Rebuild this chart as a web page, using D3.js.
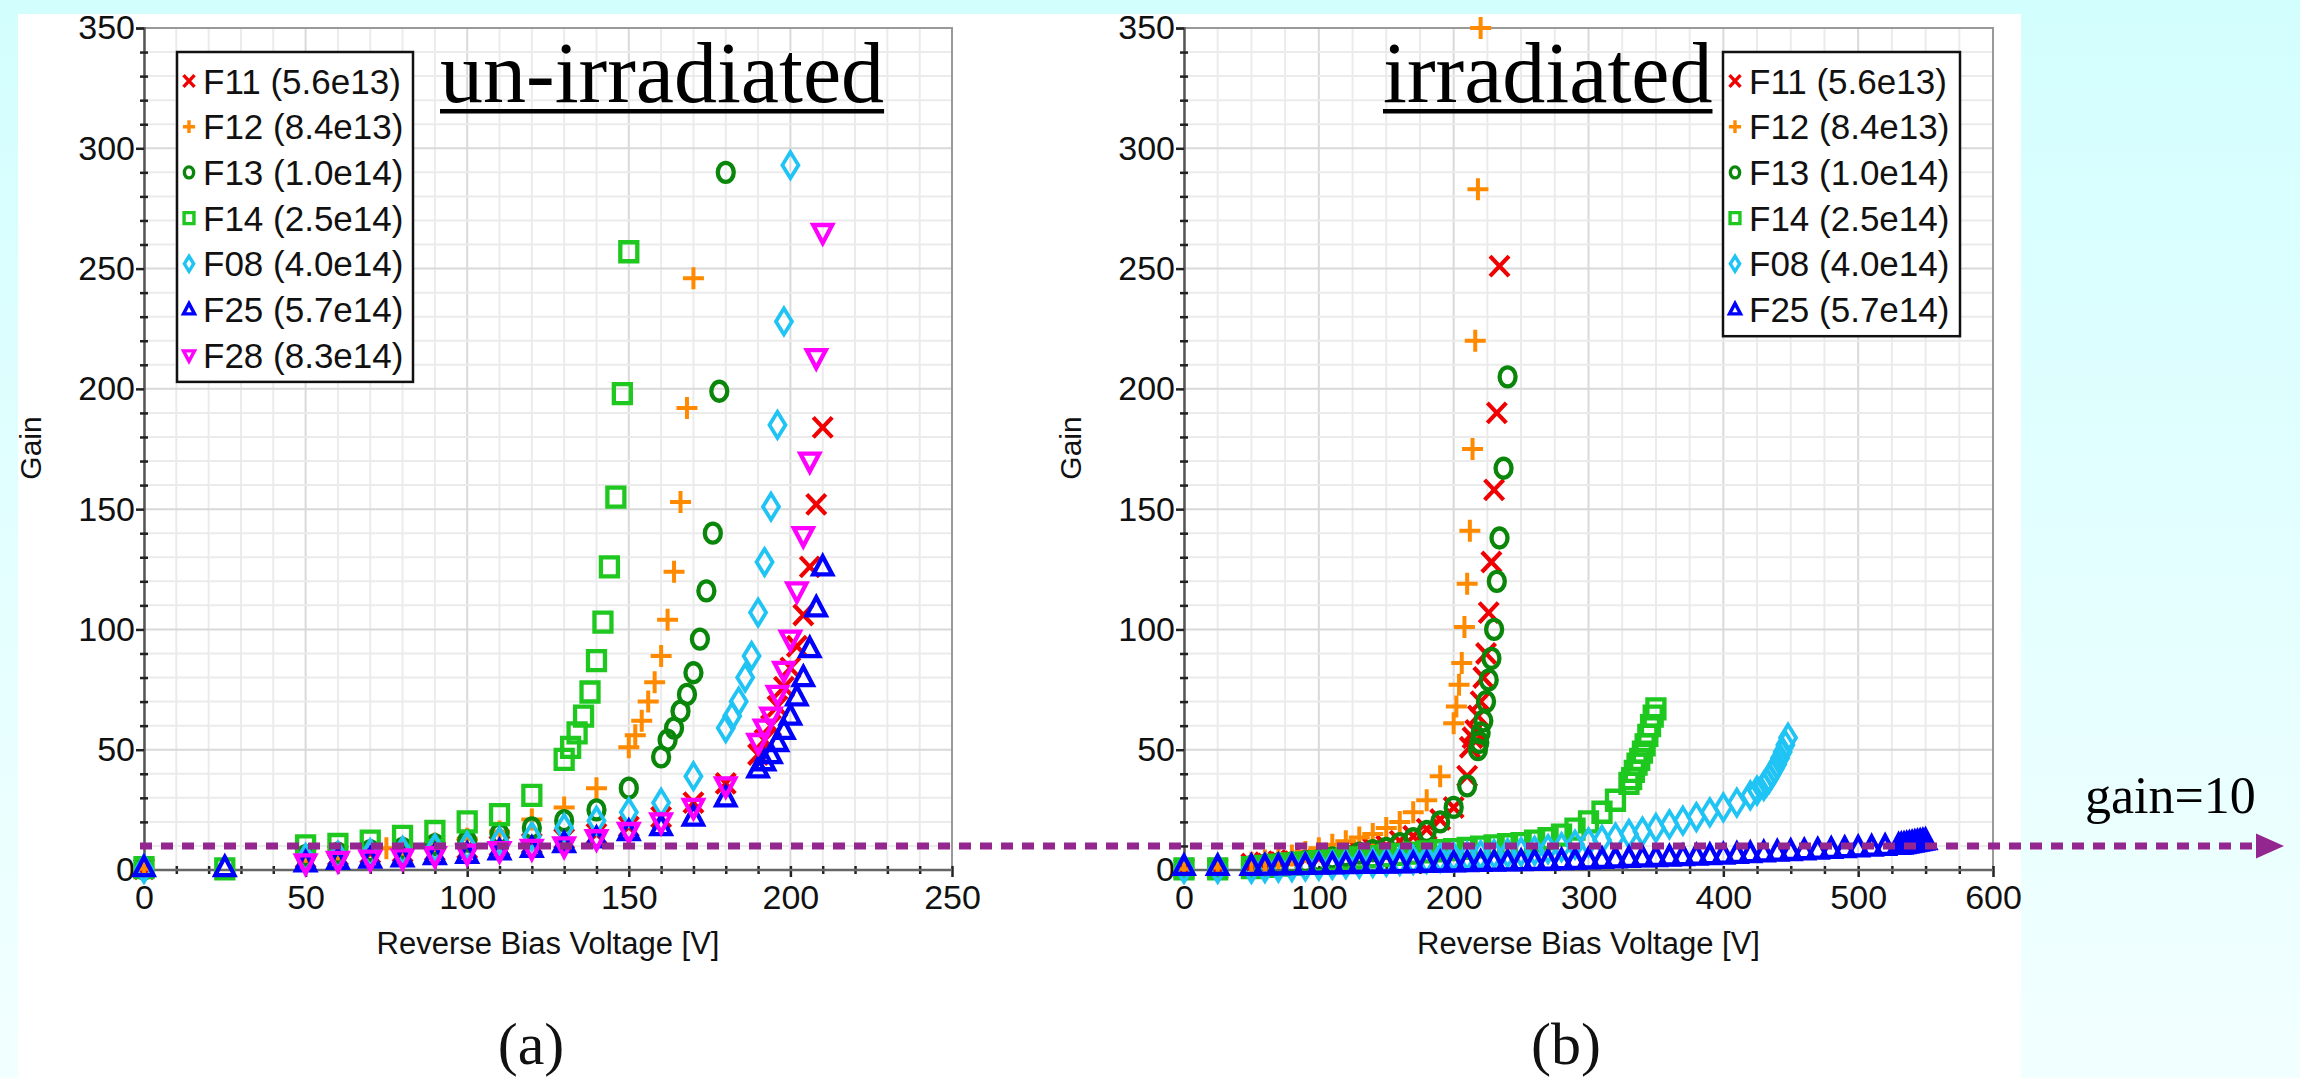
<!DOCTYPE html>
<html>
<head>
<meta charset="utf-8">
<script src="https://cdn.jsdelivr.net/npm/d3@7"></script>
<style>
  html, body { margin: 0; padding: 0; background: #ffffff; }
  svg { display: block; }
  .tick text { font-family: "Liberation Sans", Arial, sans-serif; }
</style>
</head>
<body>
<svg id="chart" width="2300" height="1078"></svg>
<script>
// ---- series labels (fluence) ----
const seriesNames = ["F11 (5.6e13)", "F12 (8.4e13)", "F13 (1.0e14)", "F14 (2.5e14)", "F08 (4.0e14)", "F25 (5.7e14)", "F28 (8.3e14)"];
const seriesColors = ["#f00000", "#ff8a00", "#0a870a", "#1ec81e", "#20c4f4", "#0000ff", "#ff00ff"];
const seriesShapes = ["x", "plus", "circle", "square", "diamond", "triUp", "triDown"];

// ---- un-irradiated: [voltage V, gain] ----
const F11a = [[0,0.5],[50,5],[60,6],[70,7],[80,7.5],[90,8],[100,9],[110,10],[120,11],[130,13],[140,15],[150,18],[160,22],[170,28],[180,36],[190,48],[192,54],[194,60],[196,68],[198,76],[200,84],[202,93],[204,106],[206,126],[208,152],[210,184]];
const F12a = [[0,0.5],[50,6],[60,7],[75,9],[80,9.5],[90,11],[100,13],[110,16],[120,21],[130,26],[140,34],[150,51],[152,56],[154,62],[156,70],[158,78],[160,89],[162,104],[164,124],[166,153],[168,192],[170,246]];
const F13a = [[0,0.5],[50,6],[60,7],[70,8],[80,9],[90,10.5],[100,12],[110,15],[120,17.5],[130,20.5],[140,25],[150,34],[160,47],[162,54],[164,59],[166,66],[168,73],[170,82],[172,96],[174,116],[176,140],[178,199],[180,290]];
const F14a = [[0,1],[25,0.5],[50,10],[60,10.6],[70,12],[80,14],[90,16],[100,20],[110,23],[120,31],[130,46],[132,51],[134,57],[136,64],[138,74],[140,87],[142,103],[144,126],[146,155],[148,198],[150,257]];
const F08a = [[0,0.5],[50,5],[60,6],[70,7],[80,8],[90,9],[100,10],[110,12],[120,14],[130,17.5],[140,20.5],[150,24],[160,28],[170,39],[180,59],[182,64],[184,70],[186,80],[188,89],[190,107],[192,128],[194,151],[196,185],[198,228],[200,293]];
const F25a = [[0,1],[25,1],[50,3],[60,4],[70,4.5],[80,5],[90,6],[100,6.5],[110,8],[120,9],[130,11],[140,13],[150,16],[160,18],[170,22],[180,30],[190,42],[192,45],[194,48],[196,53],[198,58],[200,64],[202,72],[204,80],[206,92],[208,109],[210,126]];
const F28a = [[50,3],[60,4],[70,4.5],[80,5],[90,6],[100,7],[110,8],[120,9],[130,10],[140,13],[150,16],[160,20],[170,26],[180,35],[190,53],[192,59],[194,64],[196,73],[198,83],[200,96],[202,116],[204,139],[206,170],[208,213],[210,265]];

// ---- irradiated: [voltage V, gain] ----
const F11b = [[0,0.5],[25,0.5],[50,2.5],[60,3],[70,3.5],[80,4],[90,4.5],[100,5],[110,6],[120,7],[130,8],[140,9],[150,10],[160,12],[170,14],[180,17],[190,21],[200,26],[210,39],[212,51],[214,55],[216,58],[218,64],[220,70],[222,80],[224,90],[226,107],[228,128],[230,158],[232,190],[234,251]];
const F12b = [[0,0.5],[25,1],[50,3],[60,4],[70,5],[80,6],[90,7.5],[100,9],[110,10.5],[120,12],[130,13.5],[140,15],[150,17.5],[160,20],[170,24],[180,29],[190,39],[200,61],[202,68],[204,77],[206,86],[208,101],[210,119],[212,141],[214,175],[216,220],[218,283],[220,350]];
const F13b = [[0,0.5],[25,0.5],[50,1.5],[60,2],[70,2.5],[80,3],[90,3.5],[100,4],[110,5],[120,6],[130,7],[140,8],[150,9],[160,11],[170,13],[180,16],[190,20],[200,26],[210,35],[218,50],[219,53],[220,57],[222,62],[224,70],[226,79],[228,88],[230,100],[232,120],[234,138],[237,167],[240,205]];
const F14b = [[0,0.5],[25,0.5],[50,1],[60,1.5],[70,2],[80,2.5],[90,3],[100,3.5],[110,4],[120,4.5],[130,5],[140,5.5],[150,6],[160,6.5],[170,7],[180,7.5],[190,8],[200,8.5],[210,9],[220,9.5],[230,10],[240,10.5],[250,11],[260,12],[270,13],[280,14.5],[290,17],[300,20],[310,24],[320,29],[330,36],[332,38],[334,41],[336,44],[338,46],[340,49],[342,52],[344,56],[346,60],[348,64],[350,67]];
const F08b = [[0,0.5],[25,0.5],[50,0.5],[60,0.8],[70,1],[80,1.2],[90,1.5],[100,1.8],[110,2.1],[120,2.4],[130,2.7],[140,3],[150,3.4],[160,3.8],[170,4.2],[180,4.6],[190,5],[200,5.4],[210,5.8],[220,6.2],[230,6.6],[240,7],[250,7.5],[260,8],[270,8.7],[280,9.5],[290,10.5],[300,11.5],[310,12.5],[320,13.5],[330,15],[340,16],[350,17.5],[360,19],[370,20.5],[380,22],[390,24],[400,26],[410,28],[420,31],[425,33],[430,35],[432,36.5],[434,38],[436,40],[438,42],[440,44],[442,46.5],[444,49],[446,52],[448,55]];
const F25b = [[0,1.5],[25,1.5],[50,1.5],[60,1.6],[70,1.7],[80,1.8],[90,1.9],[100,2],[110,2.1],[120,2.2],[130,2.3],[140,2.4],[150,2.5],[160,2.6],[170,2.7],[180,2.8],[190,2.9],[200,3],[210,3.1],[220,3.2],[230,3.3],[240,3.4],[250,3.5],[260,3.6],[270,3.7],[280,3.9],[290,4],[300,4.2],[310,4.4],[320,4.6],[330,4.8],[340,5],[350,5.2],[360,5.4],[370,5.6],[380,5.8],[390,6],[400,6.2],[410,6.5],[420,6.8],[430,7.1],[440,7.4],[450,7.7],[460,8],[470,8.3],[480,8.6],[490,8.9],[500,9.2],[510,9.5],[520,9.8],[530,10.2],[532,10.4],[534,10.6],[536,10.8],[538,11],[540,11.2],[542,11.4],[544,11.6],[546,11.8],[548,12],[550,12.2]];

// ---- axis ticks ----
const gainTicks = [0, 50, 100, 150, 200, 250, 300, 350];
const voltTicksA = [0, 50, 100, 150, 200, 250];
const voltTicksB = [0, 100, 200, 300, 400, 500, 600];
const gainThreshold = 10;

const svg = d3.select("#chart");
const W = 2300, H = 1078;
const sans = "'Liberation Sans', Arial, sans-serif";
const serif = "'Liberation Serif', 'Times New Roman', serif";

// page background
const defs = svg.append("defs");
const bg = defs.append("linearGradient").attr("id", "bgGrad").attr("x1", 0).attr("y1", 0).attr("x2", 0).attr("y2", 1);
bg.append("stop").attr("offset", "0%").attr("stop-color", "#d3fefe");
bg.append("stop").attr("offset", "100%").attr("stop-color", "#f2ffff");
svg.append("rect").attr("width", W).attr("height", H).attr("fill", "url(#bgGrad)");
svg.append("rect").attr("x", 18).attr("y", 14).attr("width", 2003).attr("height", H - 14).attr("fill", "#ffffff");

// marker outlines, centred on the origin
function markerPath(shape, k) {
  const p = d3.path();
  switch (shape) {
    case "x":
      p.moveTo(-9.5*k, -10*k); p.lineTo(9.5*k, 10*k); p.moveTo(-9.5*k, 10*k); p.lineTo(9.5*k, -10*k); break;
    case "plus":
      p.moveTo(-10.5*k, 0); p.lineTo(10.5*k, 0); p.moveTo(0, -11*k); p.lineTo(0, 11*k); break;
    case "circle":
      return `M${-8*k},0a${8*k},${9.5*k} 0 1,0 ${16*k},0a${8*k},${9.5*k} 0 1,0 ${-16*k},0Z`;
    case "square":
      p.rect(-8.5*k, -9.5*k, 17*k, 19*k); break;
    case "diamond":
      p.moveTo(0, -13*k); p.lineTo(8*k, 0); p.lineTo(0, 13*k); p.lineTo(-8*k, 0); p.closePath(); break;
    case "triUp":
      p.moveTo(0, -10.5*k); p.lineTo(9.5*k, 7.5*k); p.lineTo(-9.5*k, 7.5*k); p.closePath(); break;
    case "triDown":
      p.moveTo(0, 10.5*k); p.lineTo(9.5*k, -7.5*k); p.lineTo(-9.5*k, -7.5*k); p.closePath(); break;
  }
  return p.toString();
}
const strokeW = { x: 4.2, plus: 4, circle: 4.3, square: 4.3, diamond: 3.8, triUp: 4.3, triDown: 4.3 };

function drawPanel(cfg) {
  const x = d3.scaleLinear().domain([0, cfg.xMax]).range([cfg.left, cfg.right]);
  const y = d3.scaleLinear().domain([0, 350]).range([870, 28]);
  const g = svg.append("g");

  // grid
  const xGrid = d3.range(0, cfg.xMax + 0.001, cfg.xMinor);
  const yGrid = d3.range(0, 350.001, 10);
  g.selectAll(".vg").data(xGrid).join("line")
    .attr("x1", d => x(d)).attr("x2", d => x(d)).attr("y1", y(0)).attr("y2", y(350))
    .attr("stroke", d => cfg.xTicks.includes(d) ? "#d9d9d9" : "#ebebeb").attr("stroke-width", 2);
  g.selectAll(".hg").data(yGrid).join("line")
    .attr("x1", x(0)).attr("x2", x(cfg.xMax)).attr("y1", d => y(d)).attr("y2", d => y(d))
    .attr("stroke", d => gainTicks.includes(d) ? "#d9d9d9" : "#ebebeb").attr("stroke-width", 2);

  // frame (top and right)
  g.append("path")
    .attr("d", `M${x(0)},${y(350)}H${x(cfg.xMax)}V${y(0)}`)
    .attr("fill", "none").attr("stroke", "#999").attr("stroke-width", 2);

  // y axis: labelled ticks and crossing minor ticks
  const yAxis = g.append("g").attr("transform", `translate(${x(0)},0)`)
    .call(d3.axisLeft(y).tickValues(gainTicks).tickSize(8).tickPadding(1));
  yAxis.select(".domain").attr("stroke", "#555").attr("stroke-width", 2.5);
  yAxis.selectAll(".tick line").attr("stroke", "#222").attr("stroke-width", 2.5);
  yAxis.selectAll(".tick text").attr("font-size", 34).attr("font-family", sans).attr("fill", "#111");
  const yMinor = g.append("g").attr("transform", `translate(${x(0) + 4},0)`)
    .call(d3.axisLeft(y).tickValues(d3.range(10, 350, 10).filter(v => !gainTicks.includes(v))).tickSize(8).tickFormat(""));
  yMinor.select(".domain").remove();
  yMinor.selectAll(".tick line").attr("stroke", "#222").attr("stroke-width", 2.5);

  // x axis
  const xAxis = g.append("g").attr("transform", `translate(0,${y(0) - 4})`)
    .call(d3.axisBottom(x).tickValues(cfg.xTicks).tickSize(11).tickPadding(10).tickFormat(d3.format("d")));
  xAxis.select(".domain").remove();
  xAxis.selectAll(".tick line").attr("stroke", "#222").attr("stroke-width", 2.5);
  xAxis.selectAll(".tick text").attr("font-size", 34).attr("font-family", sans).attr("fill", "#111")
    .attr("transform", "translate(0,-2)");
  const xMinor = g.append("g").attr("transform", `translate(0,${y(0) - 4})`)
    .call(d3.axisBottom(x).tickValues(xGrid.filter(v => !cfg.xTicks.includes(v))).tickSize(8).tickFormat(""));
  xMinor.select(".domain").remove();
  xMinor.selectAll(".tick line").attr("stroke", "#222").attr("stroke-width", 2.5);
  g.append("line").attr("x1", x(0)).attr("x2", x(cfg.xMax)).attr("y1", y(0)).attr("y2", y(0))
    .attr("stroke", "#666").attr("stroke-width", 2.5);

  // axis titles
  g.append("text").attr("x", (cfg.left + cfg.right) / 2).attr("y", 954)
    .attr("text-anchor", "middle").attr("font-family", sans).attr("font-size", 31).attr("fill", "#111")
    .text("Reverse Bias Voltage [V]");
  g.append("text").attr("transform", `translate(${cfg.left - 103},448) rotate(-90)`)
    .attr("text-anchor", "middle").attr("font-family", sans).attr("font-size", 30).attr("fill", "#111")
    .text("Gain");

  // data points
  cfg.data.forEach((pts, i) => {
    const si = cfg.index[i];
    g.append("g").selectAll("path").data(pts).join("path")
      .attr("transform", d => `translate(${x(d[0])},${y(d[1])})`)
      .attr("d", markerPath(seriesShapes[si], 1))
      .attr("fill", "none").attr("stroke", seriesColors[si])
      .attr("stroke-width", strokeW[seriesShapes[si]]).attr("stroke-linejoin", "miter");
  });

  // legend
  const lg = g.append("g");
  const rowH = 45.7;
  lg.append("rect").attr("x", cfg.legX).attr("y", 52).attr("width", cfg.legW)
    .attr("height", cfg.index.length * rowH + 10).attr("fill", "#fff")
    .attr("stroke", "#111").attr("stroke-width", 2.5);
  cfg.index.forEach((si, r) => {
    const ry = 81 + r * rowH;
    lg.append("path").attr("transform", `translate(${cfg.legX + 12},${ry})`)
      .attr("d", markerPath(seriesShapes[si], 0.58)).attr("fill", "none")
      .attr("stroke", seriesColors[si]).attr("stroke-width", 3.4);
    lg.append("text").attr("x", cfg.legX + 26).attr("y", ry + 12.5)
      .attr("font-family", sans).attr("font-size", 35).attr("fill", "#111").text(seriesNames[si]);
  });

  // panel heading, underlined
  const t = g.append("text").attr("x", cfg.titleX).attr("y", 102)
    .attr("font-family", serif).attr("font-size", 86).attr("fill", "#000").text(cfg.title);
  const tw = t.node().getComputedTextLength();
  g.append("rect").attr("x", cfg.titleX).attr("y", 109).attr("width", tw).attr("height", 4.5).attr("fill", "#000");

  // panel letter
  g.append("text").attr("x", cfg.letterX).attr("y", 1064).attr("text-anchor", "middle")
    .attr("font-family", serif).attr("font-size", 60).attr("fill", "#111").text(cfg.letter);

  return y;
}

const yScale = drawPanel({
  xMax: 250, left: 144, right: 952, xMinor: 10, xTicks: voltTicksA,
  data: [F11a, F12a, F13a, F14a, F08a, F25a, F28a], index: [0, 1, 2, 3, 4, 5, 6],
  legX: 177, legW: 236, title: "un-irradiated", titleX: 440, letter: "(a)", letterX: 531
});
drawPanel({
  xMax: 600, left: 1184, right: 1993, xMinor: 25, xTicks: voltTicksB,
  data: [F11b, F12b, F13b, F14b, F08b, F25b], index: [0, 1, 2, 3, 4, 5],
  legX: 1723, legW: 237, title: "irradiated", titleX: 1383, letter: "(b)", letterX: 1566
});

// gain = 10 reference line with arrow
const gy = yScale(gainThreshold);
svg.append("line").attr("x1", 140).attr("x2", 2258).attr("y1", gy).attr("y2", gy)
  .attr("stroke", "#93278f").attr("stroke-width", 7).attr("stroke-dasharray", "12,9");
svg.append("path").attr("d", `M2256,${gy - 12.5}L2284,${gy}L2256,${gy + 12.5}Z`).attr("fill", "#93278f");
svg.append("text").attr("x", 2085).attr("y", 813).attr("font-family", serif)
  .attr("font-size", 52).attr("fill", "#000").text("gain=" + gainThreshold);
</script>
</body>
</html>
